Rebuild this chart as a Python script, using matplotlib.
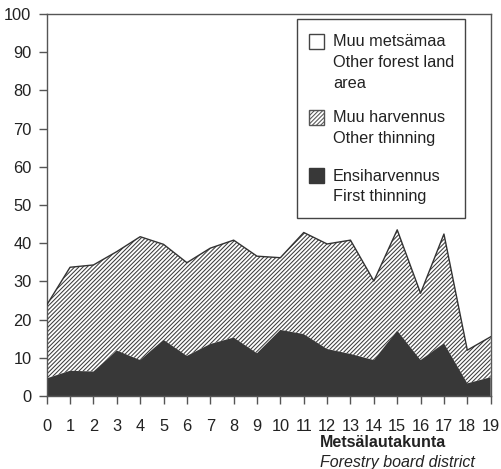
import matplotlib
matplotlib.use("Agg")
import matplotlib.pyplot as plt
from matplotlib.patches import Rectangle
import numpy as np

plt.rcParams['font.family'] = ['Liberation Sans', 'DejaVu Sans']
plt.rcParams['hatch.linewidth'] = 0.75

districts = list(range(20))
first_thinning = [4.6, 6.6, 6.4, 11.9, 9.4, 14.7, 10.5, 13.6, 15.3, 11.2,
                  17.3, 16.2, 12.3, 11.0, 9.4, 17.1, 9.4, 13.8, 3.3, 4.9]
total_thinning = [23.8, 33.7, 34.3, 37.8, 41.7, 39.7, 34.9, 38.7, 40.8, 36.6,
                  36.2, 42.8, 39.8, 40.8, 30.1, 43.5, 26.9, 42.4, 12.0, 15.5]
other_thinning = [t - f for t, f in zip(total_thinning, first_thinning)]
yticks = list(range(0, 101, 10))

text_c = '#222222'
dark = '#383838'
hatch_c = '#3c3c3c'

fig = plt.figure(figsize=(5.01, 4.69), dpi=100)
ax = fig.add_axes([0.0932, 0.1557, 0.8862, 0.8144])

x = np.array(districts)
f = np.array(first_thinning)
o = np.array(other_thinning)
ax.fill_between(x, 0, f, facecolor=dark, edgecolor='none', linewidth=0, zorder=2)
ax.fill_between(x, f, f + o, facecolor='white', edgecolor=hatch_c, hatch='////////',
                linewidth=0, zorder=1)
ax.plot(x, f + o, color='#333333', lw=1.0, zorder=3)

ax.set_xlim(0, 19)
ax.set_ylim(0, 100)
ax.set_xticks(districts)
ax.set_yticks(yticks)
for s in ax.spines.values():
    s.set_color('#555555')
    s.set_linewidth(1.0)
ax.tick_params(axis='both', direction='out', length=6, width=1.0, color='#555555',
               labelcolor=text_c, labelsize=11.8)
ax.tick_params(axis='x', pad=10.5)
ax.tick_params(axis='y', pad=5)

W, H = 501, 469
def fx(px): return px / W
def fy(py): return 1 - py / H

fig.text(fx(320), fy(442.5), 'Metsälautakunta', ha='left', va='center',
         fontsize=11.5, fontweight='bold', color=text_c)
fig.text(fx(320), fy(462.5), 'Forestry board district', ha='left', va='center',
         fontsize=11.5, fontstyle='italic', color=text_c)

fig.patches.append(Rectangle((fx(297), fy(218)), fx(465) - fx(297), fy(19) - fy(218),
                             transform=fig.transFigure, facecolor='white',
                             edgecolor='#444444', lw=1.0, zorder=5))
sq = 15
entries = [
    (34, dict(facecolor='white', edgecolor='#444444'), ['Muu metsämaa', 'Other forest land', 'area']),
    (110, dict(facecolor='white', edgecolor='#555555', hatch='////////'), ['Muu harvennus', 'Other thinning']),
    (168, dict(facecolor=dark, edgecolor=dark), ['Ensiharvennus', 'First thinning']),
]
for top, style, lines in entries:
    fig.patches.append(Rectangle((fx(309), fy(top + sq)), fx(309 + sq) - fx(309),
                                 fy(top) - fy(top + sq), transform=fig.transFigure,
                                 lw=1.0, zorder=6, **style))
    for i, ln in enumerate(lines):
        fig.text(fx(333), fy(top + 8 + i * 20.5), ln, ha='left', va='center',
                 fontsize=11.7, color=text_c, zorder=7)

fig.savefig('out.png', dpi=100)
